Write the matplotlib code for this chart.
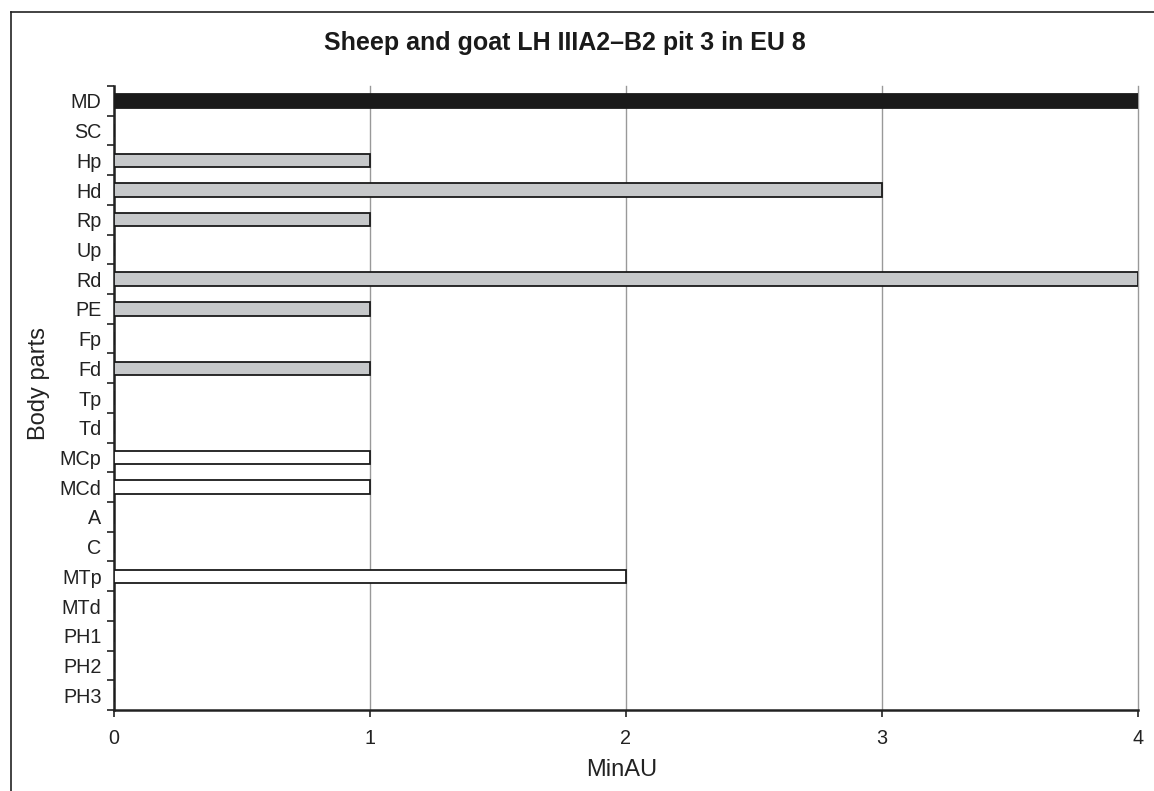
import numpy as np
import matplotlib.pyplot as plt
from matplotlib.lines import Line2D

plt.rcParams['font.family'] = ['Liberation Sans', 'DejaVu Sans']

# body parts (top to bottom) and MinAU values
parts = ['MD', 'SC', 'Hp', 'Hd', 'Rp', 'Up', 'Rd', 'PE', 'Fp', 'Fd', 'Tp',
         'Td', 'MCp', 'MCd', 'A', 'C', 'MTp', 'MTd', 'PH1', 'PH2', 'PH3']
minau = [4, 0, 1, 3, 1, 0, 4, 1, 0, 1, 0, 0, 1, 1, 0, 0, 2, 0, 0, 0, 0]
# group: head / front limb / lower limb
groups = ['head', 'none', 'upper', 'upper', 'upper', 'upper', 'upper', 'upper',
          'upper', 'upper', 'upper', 'upper', 'lower', 'lower', 'lower', 'lower',
          'lower', 'lower', 'lower', 'lower', 'lower']
face = {'head': '#1a1a1a', 'none': 'white', 'upper': '#c6c8ca', 'lower': 'white'}

fig = plt.figure(figsize=(11.54, 7.91), dpi=100)
ax = fig.add_axes([114/1154, 1 - 710/791, (1138 - 114)/1154, (710 - 86)/791])

y = np.arange(len(parts))
colors = [face[g] for g in groups]
ax.barh(y, minau, height=0.45, color=colors, edgecolor='#1a1a1a', linewidth=1.3, zorder=3)

ax.set_ylim(len(parts) - 0.5, -0.5)
ax.set_xlim(0, 4)
ax.set_xticks([0, 1, 2, 3, 4])
ax.set_yticks(y)
ax.set_yticklabels(parts, fontsize=14.2, color='#222222')
ax.set_yticks(np.arange(len(parts) + 1) - 0.5, minor=True)
ax.tick_params(axis='y', which='major', length=0, pad=9)
ax.tick_params(axis='y', which='minor', length=5, width=1.2, color='#222222')
ax.tick_params(axis='x', length=5, width=1.2, color='#222222', labelsize=14.2,
               labelcolor='#222222', pad=9)
ax.grid(axis='x', color='#999999', linewidth=1.0, zorder=0)
for gl in ax.get_xgridlines():
    gl.set_clip_on(False)
for s in ['top', 'right']:
    ax.spines[s].set_visible(False)
ax.spines['left'].set_linewidth(1.8)
ax.spines['bottom'].set_linewidth(1.8)
ax.spines['left'].set_color('#222222')
ax.spines['bottom'].set_color('#222222')

fig.text(565/1154, 1 - 43/791, 'Sheep and goat LH IIIA2\u2013B2 pit 3 in EU 8',
         ha='center', va='center', fontsize=18, fontweight='bold', color='#1a1a1a')
fig.text(622/1154, 1 - 770/791, 'MinAU', ha='center', va='center', fontsize=17,
         color='#222222')
fig.text(39/1154, 1 - 384/791, 'Body parts', ha='center', va='center', fontsize=17,
         rotation=90, color='#222222')

# outer frame (cropped at right and bottom)
fig.add_artist(Line2D([11/1154, 11/1154], [0, 1 - 12/791], transform=fig.transFigure,
                      color='#222222', linewidth=1.2))
fig.add_artist(Line2D([11/1154, 1], [1 - 12/791, 1 - 12/791], transform=fig.transFigure,
                      color='#222222', linewidth=1.2))

fig.savefig('out.png', dpi=100)
